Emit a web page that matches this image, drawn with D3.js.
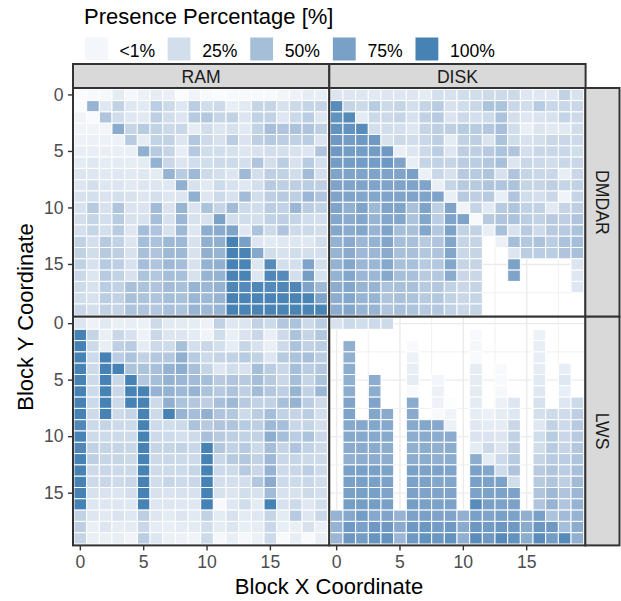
<!DOCTYPE html>
<html>
<head>
<meta charset="utf-8">
<script src="https://cdn.jsdelivr.net/npm/d3@7"></script>
<style>
    html, body { margin: 0; padding: 0; background: #fff; }
    text { font-family: "Liberation Sans", Arial, sans-serif; }
</style>
</head>
<body>
<div id="chart"></div>
<script>
const _ = null

/* DATA: one row per block Y, one value per block X, in percent */
const ramDmdar = [
    [2,3,4,12,4,8,11,9,2,6,3,2,3,3,3,3,5,7,11,10],
    [2,55,14,30,14,13,33,24,14,34,22,24,10,13,28,28,18,25,28,28],
    [6,3,40,22,14,13,32,22,16,36,38,27,30,16,30,30,15,25,34,15],
    [6,6,5,62,28,35,30,25,26,11,22,16,19,13,29,45,40,42,40,32],
    [7,8,8,8,35,11,29,30,16,38,24,18,34,17,32,37,33,31,34,17],
    [10,10,9,10,9,58,36,28,10,37,22,22,19,16,18,21,20,18,16,40],
    [12,14,11,12,11,12,56,26,16,22,22,24,24,20,40,21,34,18,35,20],
    [16,15,13,14,13,14,12,55,35,50,24,20,16,50,20,32,30,22,48,20],
    [16,20,15,16,13,15,16,14,58,18,13,24,18,14,20,36,32,32,34,32],
    [18,20,17,20,18,15,20,15,16,58,15,24,18,48,22,32,36,32,52,40],
    [18,36,18,40,17,17,48,17,54,17,42,28,48,24,22,34,30,52,34,30],
    [20,28,20,35,18,18,46,18,52,18,18,70,20,22,20,30,32,28,22,20],
    [20,28,20,35,15,46,40,18,50,15,60,62,68,14,42,24,40,24,25,21],
    [30,20,36,30,16,46,42,50,50,18,58,58,100,72,15,13,14,15,14,21],
    [30,22,36,32,18,44,40,50,50,18,58,54,100,98,65,22,18,22,20,20],
    [30,18,36,32,18,46,40,50,46,18,56,58,100,98,15,92,20,20,68,20],
    [26,16,35,30,18,42,38,46,44,18,54,56,98,98,15,95,92,20,74,18],
    [24,18,34,30,44,42,40,48,44,54,52,56,95,93,95,93,95,95,68,50],
    [22,18,34,30,44,42,40,46,44,52,50,54,100,98,98,98,98,98,98,68],
    [26,20,30,28,42,40,38,44,42,54,50,54,100,98,98,98,98,98,98,98],
]

const diskDmdar = [
    [16,15,15,13,15,15,15,12,20,18,22,22,24,24,25,15,14,14,30,18],
    [90,28,25,35,25,28,20,28,35,18,22,26,42,42,26,22,35,26,26,26],
    [85,92,12,25,25,28,18,30,36,17,25,20,24,42,20,14,17,18,28,24],
    [85,85,90,20,22,20,15,28,32,32,35,35,38,45,22,9,16,13,13,22],
    [78,75,78,78,18,25,22,26,32,12,30,32,17,42,22,18,20,26,26,24],
    [78,75,75,75,78,9,15,25,34,15,32,32,36,42,40,20,26,26,26,22],
    [75,75,75,75,78,68,10,28,30,28,34,34,38,44,16,26,25,22,26,26],
    [68,68,68,68,68,68,72,8,26,18,36,36,40,18,40,28,26,26,10,26],
    [68,68,68,68,68,68,68,68,9,28,36,36,40,40,42,28,28,32,28,30],
    [68,68,66,66,68,68,68,68,68,9,36,32,36,10,40,22,20,26,6,28],
    [68,58,68,50,68,68,44,68,32,68,6,28,13,36,40,30,30,13,28,32],
    [66,62,66,54,66,66,42,66,34,68,68,3,36,40,42,34,30,36,32,40],
    [66,62,66,54,68,46,44,66,38,70,30,30,10,44,18,36,24,36,36,42],
    [56,62,52,56,66,46,44,36,40,66,28,28,_,8,46,38,42,34,42,46],
    [54,62,50,52,62,44,44,38,40,66,26,28,_,_,16,34,34,34,40,44],
    [56,66,52,52,65,44,44,36,38,66,28,28,_,_,70,_,_,_,_,16],
    [56,66,52,52,65,46,44,36,38,62,26,26,_,_,68,_,_,_,_,14],
    [60,66,54,54,42,44,44,36,38,30,26,28,_,_,_,_,_,_,_,14],
    [60,66,54,54,40,44,42,36,38,30,26,28,_,_,_,_,_,_,_,_],
    [60,66,54,54,40,44,42,36,38,30,26,28,_,_,_,_,_,_,_,_],
]

const ramLws = [
    [16,7,13,9,10,8,24,13,12,11,7,30,14,16,30,24,38,42,25,34],
    [100,28,9,26,18,7,26,16,16,12,6,22,9,17,26,9,24,42,28,38],
    [100,24,10,32,35,11,25,23,44,20,26,20,11,27,18,9,24,42,30,34],
    [100,24,100,34,42,30,38,38,58,35,25,28,30,35,30,15,36,42,44,34],
    [100,24,100,100,42,42,44,56,60,44,28,15,22,18,46,34,26,46,34,38],
    [100,24,100,26,100,38,46,56,52,48,46,36,40,36,46,36,26,46,28,42],
    [100,24,100,26,100,100,55,56,50,54,42,36,42,32,48,38,32,54,30,52],
    [100,24,100,25,100,100,24,58,42,38,32,44,50,36,30,30,44,55,34,24],
    [100,24,100,24,28,100,24,100,54,46,58,40,38,24,34,46,30,28,34,20],
    [95,25,28,24,24,100,24,22,24,42,36,40,40,35,32,50,46,26,28,20],
    [100,24,24,24,24,100,24,24,20,24,44,36,32,30,30,60,46,34,42,26],
    [95,30,28,28,26,100,28,28,30,26,100,38,30,36,25,46,28,40,30,24],
    [100,32,27,27,25,100,25,26,25,24,100,26,36,38,30,50,26,27,25,24],
    [100,24,26,25,25,100,23,24,24,27,100,24,24,36,26,55,24,26,33,24],
    [100,24,26,24,26,100,22,27,24,26,100,20,20,21,38,62,24,24,26,22],
    [100,18,17,16,20,100,18,17,18,18,100,18,16,21,18,48,18,18,24,20],
    [100,15,15,15,14,100,15,15,14,14,100,3,14,22,12,100,18,25,14,20],
    [30,15,13,17,14,32,15,12,16,13,30,12,18,12,14,28,12,36,15,26],
    [32,9,16,11,12,26,11,10,12,12,22,11,16,10,11,26,10,9,18,9],
    [28,9,9,10,6,34,15,8,7,6,24,4,10,4,8,24,3,10,3,9],
]

const diskLws = [
    [18,25,22,24,24,_,_,_,_,_,_,_,_,_,_,_,_,_,_,_],
    [_,_,_,_,_,_,_,_,_,_,_,3,_,_,_,_,7,_,_,_],
    [_,58,_,_,_,_,3,_,_,_,_,4,_,_,_,_,10,_,_,_],
    [_,58,_,_,_,_,7,_,_,_,_,3,_,_,_,_,10,_,_,_],
    [_,60,_,_,_,_,10,_,_,_,_,11,_,3,_,_,11,_,10,_],
    [_,58,_,60,_,_,11,_,5,_,_,11,_,3,_,_,13,_,14,_],
    [_,60,_,60,_,_,3,_,8,_,_,12,_,4,_,_,14,_,10,_],
    [_,68,_,68,_,_,62,_,7,1,_,12,_,8,15,_,18,_,15,25],
    [_,68,_,66,62,_,62,_,3,6,_,11,8,11,14,_,20,23,23,32],
    [_,65,65,66,65,_,64,66,65,8,_,14,12,11,26,_,14,30,24,36],
    [_,65,64,64,64,_,60,62,60,62,_,17,17,16,30,_,22,35,26,36],
    [_,62,62,62,60,_,58,60,58,60,_,12,25,16,32,_,22,35,28,38],
    [_,58,60,60,60,_,60,60,58,60,_,60,12,24,35,_,28,35,34,40],
    [_,72,72,72,70,_,72,70,70,68,_,72,66,23,40,_,36,40,34,44],
    [_,72,72,72,70,_,70,70,66,66,_,72,70,70,22,_,36,40,32,48],
    [_,72,72,72,68,_,70,68,68,68,_,70,70,70,70,_,40,50,40,52],
    [_,74,74,74,72,_,74,72,70,70,_,90,72,70,70,_,40,55,40,55],
    [55,65,75,65,68,55,70,72,68,68,58,72,68,72,70,58,72,42,48,55],
    [55,78,72,78,78,62,78,80,75,78,62,80,76,80,78,62,80,78,46,60],
    [52,80,75,82,85,52,78,85,80,85,58,90,78,92,85,60,90,75,92,58],
]

const COLUMNS = ["RAM", "DISK"]
const ROWS = ["DMDAR", "LWS"]
const PANELS = [[ramDmdar, diskDmdar], [ramLws, diskLws]]

const BLOCKS = d3.range(20)
const TICK_VALUES = [0, 5, 10, 15]
const MINOR_VALUES = [2.5, 7.5, 12.5, 17.5]

const LEGEND_LABELS = ["<1%", "25%", "50%", "75%", "100%"]
const LEGEND_VALUES = [7, 25, 50, 75, 100]

/* LAYOUT */
const width = 621, height = 601
const panelX = [73, 329.3]
const panelY = [88, 316.7]
const panelW = 256.3, panelH = 228.7

const svg = d3.select("#chart").append("svg")
    .attr("width", width)
    .attr("height", height)
    .style("display", "block")

const color = d3.scaleLinear()
    .domain([0, 100])
    .range(["#ffffff", "#4682b4"])
    .interpolate(d3.interpolateLab)

// tiles read a bit darker than the legend keys in the picture
const tileColor = d3.scalePow()
    .exponent(0.88)
    .domain([0, 100])
    .range(["#ffffff", "#4682b4"])
    .interpolate(d3.interpolateLab)

// the tiles sit on a band scale, the grid and ticks use the band centres
const x = d3.scaleBand().domain(BLOCKS).range([1, 254.4])
const y = d3.scaleBand().domain(BLOCKS).range([1.3, 227.3])
const xPos = v => x(0) + (v + 0.5) * x.step()
const yPos = v => y(0) + (v + 0.5) * y.step()

function drawPanel(g, data) {
    g.append("rect")
        .attr("width", panelW)
        .attr("height", panelH)
        .attr("fill", "#fff")

    // grid: minor first, then major
    const grid = g.append("g").attr("stroke", "#ebebeb").attr("fill", "none")
    MINOR_VALUES.forEach(v => {
        grid.append("line").attr("x1", xPos(v)).attr("x2", xPos(v)).attr("y2", panelH).attr("stroke-width", 0.7)
        grid.append("line").attr("y1", yPos(v)).attr("y2", yPos(v)).attr("x2", panelW).attr("stroke-width", 0.7)
    })
    TICK_VALUES.forEach(v => {
        grid.append("line").attr("x1", xPos(v)).attr("x2", xPos(v)).attr("y2", panelH).attr("stroke-width", 1.4)
        grid.append("line").attr("y1", yPos(v)).attr("y2", yPos(v)).attr("x2", panelW).attr("stroke-width", 1.4)
    })

    const cells = []
    data.forEach((row, r) => row.forEach((v, c) => {
        if (v !== null) cells.push({ r, c, v })
    }))

    g.selectAll("rect.cell")
        .data(cells)
        .enter().append("rect")
        .attr("class", "cell")
        .attr("x", d => x(d.c))
        .attr("y", d => y(d.r))
        .attr("width", x.bandwidth())
        .attr("height", y.bandwidth())
        .attr("fill", d => tileColor(d.v))
        .attr("stroke", "#fff")
        .attr("stroke-width", 1)

    g.append("rect")
        .attr("width", panelW)
        .attr("height", panelH)
        .attr("fill", "none")
        .attr("stroke", "#333")
        .attr("stroke-width", 2)
}

function styleAxis(g) {
    g.select(".domain").remove()
    g.selectAll("line").attr("stroke", "#333").attr("stroke-width", 1.4)
    g.selectAll("text").attr("fill", "#4d4d4d").style("font-size", "17.6px")
}

PANELS.forEach((panelRow, ri) => {
    panelRow.forEach((data, ci) => {
        const g = svg.append("g").attr("transform", `translate(${panelX[ci]},${panelY[ri]})`)
        drawPanel(g, data)

        if (ci === 0) {
            g.append("g").call(d3.axisLeft(y).tickValues(TICK_VALUES).tickSize(5).tickPadding(4.5)).call(styleAxis)
        }
        if (ri === 1) {
            g.append("g").attr("transform", `translate(0,${panelH})`)
                .call(d3.axisBottom(x).tickValues(TICK_VALUES).tickSize(5).tickPadding(5)).call(styleAxis)
        }
    })
})

/* STRIPS */
COLUMNS.forEach((name, i) => {
    svg.append("rect")
        .attr("x", panelX[i]).attr("y", 64)
        .attr("width", panelW).attr("height", 24)
        .attr("fill", "#d9d9d9").attr("stroke", "#333").attr("stroke-width", 2)
    svg.append("text")
        .attr("x", panelX[i] + panelW / 2).attr("y", 82.5)
        .attr("text-anchor", "middle")
        .attr("fill", "#1a1a1a")
        .style("font-size", "17.6px")
        .text(name)
})

ROWS.forEach((name, i) => {
    svg.append("rect")
        .attr("x", 585.3).attr("y", panelY[i])
        .attr("width", 34.2).attr("height", panelH)
        .attr("fill", "#d9d9d9").attr("stroke", "#333").attr("stroke-width", 2)
    svg.append("text")
        .attr("transform", `translate(596,${panelY[i] + panelH / 2}) rotate(90)`)
        .attr("text-anchor", "middle")
        .attr("fill", "#1a1a1a")
        .style("font-size", "17.6px")
        .text(name)
})

/* AXIS TITLES */
svg.append("text")
    .attr("x", 329).attr("y", 594)
    .attr("text-anchor", "middle")
    .attr("fill", "#000")
    .style("font-size", "22px")
    .text("Block X Coordinate")

svg.append("text")
    .attr("transform", "translate(33,317) rotate(-90)")
    .attr("text-anchor", "middle")
    .attr("fill", "#000")
    .style("font-size", "22px")
    .text("Block Y Coordinate")

/* LEGEND */
svg.append("text")
    .attr("x", 84).attr("y", 24)
    .attr("fill", "#000")
    .style("font-size", "22px")
    .text("Presence Percentage [%]")

const legendX = d3.scalePoint().domain(LEGEND_LABELS).range([85, 415.5])

LEGEND_LABELS.forEach((label, i) => {
    svg.append("rect")
        .attr("x", legendX(label)).attr("y", 37.5)
        .attr("width", 22.8).attr("height", 23)
        .attr("fill", color(LEGEND_VALUES[i]))
    svg.append("text")
        .attr("x", legendX(label) + 34.5).attr("y", 56.5)
        .attr("fill", "#000")
        .style("font-size", "17.6px")
        .text(label)
})
</script>
</body>
</html>
